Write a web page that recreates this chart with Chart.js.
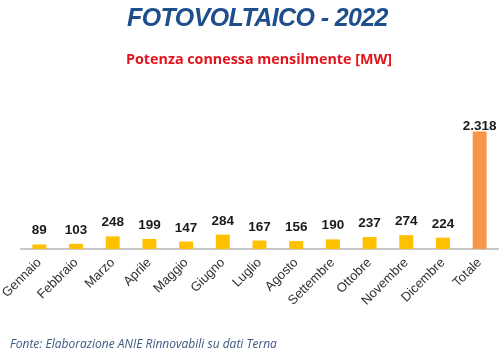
<!DOCTYPE html>
<html>
<head>
<meta charset="utf-8">
<script src="https://cdn.jsdelivr.net/npm/chart.js@4/dist/chart.umd.min.js"></script>
<style>
  html, body { margin: 0; padding: 0; background: #fff; }
  #wrap { position: relative; width: 502px; height: 363px; overflow: hidden; }
  #chart { position: absolute; left: 0; top: 0; }
  .title {
    position: absolute; left: 0; width: 515px; top: 3px; text-align: center;
    font: italic bold 25px "Liberation Sans", Arial, sans-serif; color: #1f4e8c;
    letter-spacing: -0.6px;
  }
  .subtitle {
    position: absolute; left: 0; width: 518px; top: 49px; text-align: center;
    font: bold 14.3px "Open Sans", sans-serif; color: #e3141c;
  }
  .source {
    position: absolute; left: 10px; top: 335px;
    font: italic 12px "Open Sans", sans-serif; color: #3b5a82;
  }
</style>
</head>
<body>
<div id="wrap">
  <canvas id="chart" width="502" height="363"></canvas>
  <div class="title">FOTOVOLTAICO - 2022</div>
  <div class="subtitle">Potenza connessa mensilmente [MW]</div>
  <div class="source">Fonte: Elaborazione ANIE Rinnovabili su dati Terna</div>
</div>
<script>
// values (MW)
const months = ['Gennaio', 'Febbraio', 'Marzo', 'Aprile', 'Maggio', 'Giugno', 'Luglio',
  'Agosto', 'Settembre', 'Ottobre', 'Novembre', 'Dicembre', 'Totale'];
const power = [89, 103, 248, 199, 147, 284, 167, 156, 190, 237, 274, 224, 2318];
const barColors = months.map(m => m === 'Totale' ? '#f79646' : '#ffc000');

const fmtIt = v => v.toLocaleString('it-IT');

// value labels above each bar
const valueLabels = {
  id: 'valueLabels',
  afterDatasetsDraw(chart) {
    const ctx = chart.ctx;
    const meta = chart.getDatasetMeta(0);
    ctx.save();
    ctx.font = 'bold 13.5px "Liberation Sans", Arial, sans-serif';
    ctx.fillStyle = '#1a1a1a';
    ctx.textAlign = 'center';
    ctx.textBaseline = 'alphabetic';
    meta.data.forEach((bar, i) => {
      const gap = i === meta.data.length - 1 ? 2 : 10;
      ctx.fillText(fmtIt(power[i]), bar.x, bar.y - gap);
    });
    ctx.restore();
  }
};

new Chart(document.getElementById('chart'), {
  type: 'bar',
  data: {
    labels: months,
    datasets: [{
      data: power,
      backgroundColor: barColors,
      borderWidth: 0,
      categoryPercentage: 1,
      barPercentage: 0.38
    }]
  },
  options: {
    responsive: false,
    animation: false,
    layout: { padding: { left: 21, right: 4, top: 97, bottom: 0 } },
    plugins: { legend: { display: false }, tooltip: { enabled: false } },
    scales: {
      y: { display: false, min: 0, max: 3000 },
      x: {
        grid: { display: false, drawTicks: false },
        border: { display: true, color: '#c8c8c8', width: 2 },
        ticks: {
          minRotation: 45, maxRotation: 45, padding: 6, autoSkip: false,
          color: '#333',
          font: { family: '"Liberation Sans", Arial, sans-serif', size: 13 }
        },
        afterFit(s) {
          s.height = 114;
          s.paddingLeft = 0;
          s.paddingRight = 0;
        }
      }
    }
  },
  plugins: [valueLabels]
});
</script>
</body>
</html>
